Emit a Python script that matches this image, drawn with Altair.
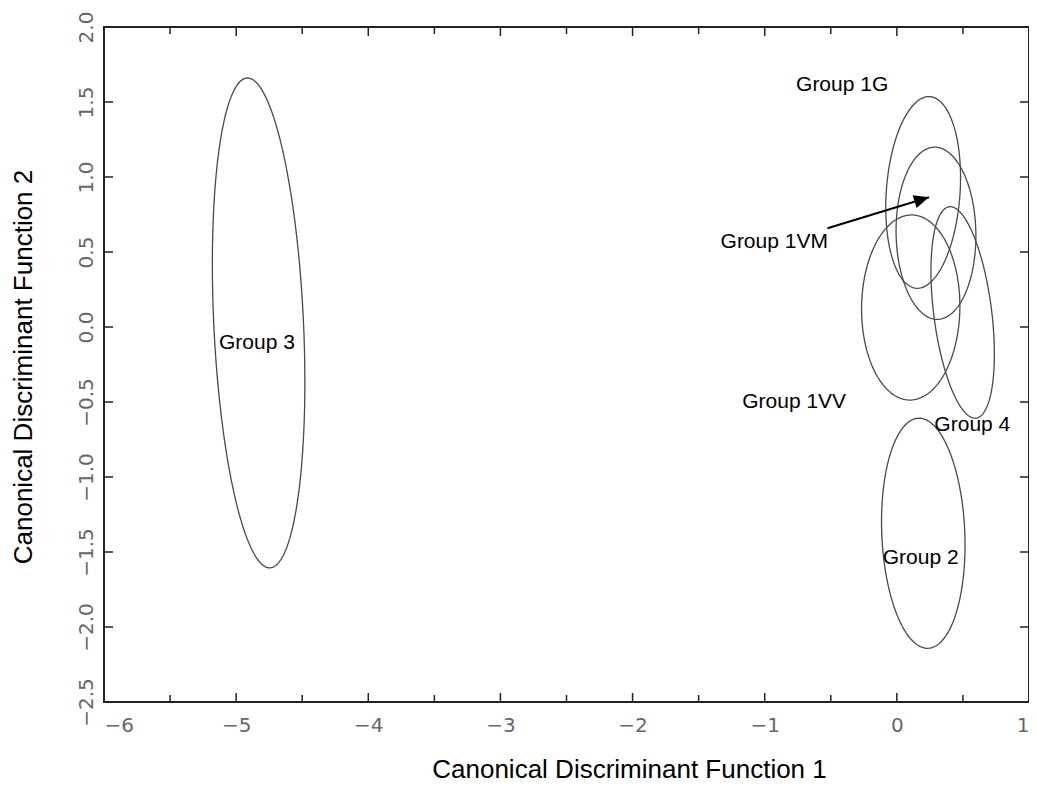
import altair as alt
import numpy as np
import pandas as pd

# ---- Ellipse parameters (data units) ----
ell_name  = ["E1", "E2", "E3", "E4", "E5", "E6"]
ell_cx    = [0.199, 0.296, 0.105, 0.498, 0.200, -4.830]
ell_cy    = [0.897, 0.625, 0.130, 0.097, -1.375, 0.027]
ell_halfw = [0.283, 0.302, 0.372, 0.240, 0.316, 0.350]
ell_halfh = [0.639, 0.574, 0.617, 0.705, 0.767, 1.633]
ell_topdx = [0.044, -0.009, 0.006, -0.094, -0.032, -0.084]

# ---- Group labels ----
label_text = ["Group 1G", "Group 1VM", "Group 1VV", "Group 4", "Group 2", "Group 3"]
label_x    = [-0.414, -0.928, -0.777, 0.571, 0.180, -4.843]
label_y    = [1.613, 0.569, -0.498, -0.653, -1.542, -0.107]

# ---- Arrow (start -> tip) ----
arrow_x = [-0.525, 0.243]
arrow_y = [0.658, 0.865]

# ---- Axis ticks ----
x_labels      = [-6, -5, -4, -3, -2, -1, 0, 1]
x_major_ticks = [-5, -4, -3, -2, -1, 0]
x_minor_ticks = [-5.5, -4.5, -3.5, -2.5, -1.5, -0.5, 0.5]
y_labels      = [-2.5, -2.0, -1.5, -1.0, -0.5, 0.0, 0.5, 1.0, 1.5, 2.0]
y_ticks       = [-2.0, -1.5, -1.0, -0.5, 0.0, 0.5, 1.0, 1.5]

W, H = 925, 675

# ellipse outlines from centre / spread parameters
rows = []
t = np.linspace(0, 2 * np.pi, 181)
for n, cx, cy, a, hh, dx in zip(ell_name, ell_cx, ell_cy, ell_halfw, ell_halfh, ell_topdx):
    sxy = dx * hh
    b = sxy / a
    c = np.sqrt(hh ** 2 - b ** 2)
    xs = cx + a * np.cos(t)
    ys = cy + b * np.cos(t) + c * np.sin(t)
    for i, (xx, yy) in enumerate(zip(xs, ys)):
        rows.append({"name": n, "i": i, "x": xx, "y": yy})
ell_df = pd.DataFrame(rows)

lab_df = pd.DataFrame({"text": label_text, "x": label_x, "y": label_y})
arr_df = pd.DataFrame({"x": [arrow_x[0]], "y": [arrow_y[0]], "x2": [arrow_x[1]], "y2": [arrow_y[1]]})
head_df = pd.DataFrame({"x": [arrow_x[1]], "y": [arrow_y[1]]})

xs_ = alt.Scale(domain=[-6, 1], nice=False, zero=False)
ys_ = alt.Scale(domain=[-2.5, 2.0], nice=False, zero=False)

x_axis = alt.Axis(
    values=x_labels, format="d", domain=False, ticks=False, grid=False,
    labelFont="DejaVu Sans", labelFontSize=20, labelColor="#666",
    labelPadding=13,
    labelAlign={"condition": [{"test": "datum.value <= -6", "value": "left"},
                              {"test": "datum.value >= 1", "value": "right"}],
                "value": "center"},
    title="Canonical Discriminant Function 1", titleFont="Liberation Sans",
    titleFontSize=26, titleFontWeight="normal", titleColor="black",
    titleX=525, titleY=75, titleBaseline="alphabetic", titleAlign="center",
)
y_axis = alt.Axis(
    values=y_labels, format=".1f", domain=False, ticks=False, grid=False,
    labelFont="DejaVu Sans", labelFontSize=20, labelColor="#666",
    labelAngle=270, labelAlign="center", labelBaseline="bottom", labelPadding=8,
    title="Canonical Discriminant Function 2", titleFont="Liberation Sans",
    titleFontSize=26, titleFontWeight="normal", titleColor="black",
    titleAngle=270, titleX=-73, titleY=H / 2 + 2, titleBaseline="alphabetic", titleAlign="center",
)

X = lambda f: alt.X(f, scale=xs_, axis=x_axis)
Y = lambda f: alt.Y(f, scale=ys_, axis=y_axis)

ellipses = alt.Chart(ell_df).mark_line(color="#4a4a4a", strokeWidth=1.3).encode(
    x=X("x:Q"), y=Y("y:Q"), detail="name:N", order="i:Q",
)

labels = alt.Chart(lab_df).mark_text(
    font="Liberation Sans", fontSize=21, color="black", align="center", baseline="middle"
).encode(x=X("x:Q"), y=Y("y:Q"), text="text:N")

arrow = alt.Chart(arr_df).mark_rule(color="black", strokeWidth=2).encode(
    x=X("x:Q"), y=Y("y:Q"), x2="x2:Q", y2="y2:Q",
)
head = alt.Chart(head_df).mark_point(
    shape="M0,0 L-0.45,1 L0.45,1 Z", filled=True, color="black", opacity=1,
    size=900, angle=73, strokeWidth=0,
).encode(x=X("x:Q"), y=Y("y:Q"))

def xticks(vals, y0, y1):
    return alt.Chart(pd.DataFrame({"x": vals})).mark_rule(color="#222", strokeWidth=1.5).encode(
        x=X("x:Q"), y=alt.value(y0), y2=alt.value(y1))

def yticks(vals, x0, x1):
    return alt.Chart(pd.DataFrame({"y": vals})).mark_rule(color="#222", strokeWidth=1.5).encode(
        y=Y("y:Q"), x=alt.value(x0), x2=alt.value(x1))

tick_layers = [
    xticks(x_major_ticks, H, H - 9), xticks(x_minor_ticks, H, H - 7),
    xticks(x_major_ticks, 0, 9), xticks(x_minor_ticks, 0, 7),
    yticks(y_ticks, 0, 9), yticks(y_ticks, W, W - 9),
]

chart = alt.layer(ellipses, labels, arrow, head, *tick_layers).properties(
    width=W, height=H,
    autosize=alt.AutoSizeParams(type="none"),
    padding={"left": 96, "top": 19, "right": 0, "bottom": 82},
    background="white",
).configure_view(stroke="#222", strokeWidth=2)

chart.save("out.html", embed_options={"renderer": "svg", "actions": False})
